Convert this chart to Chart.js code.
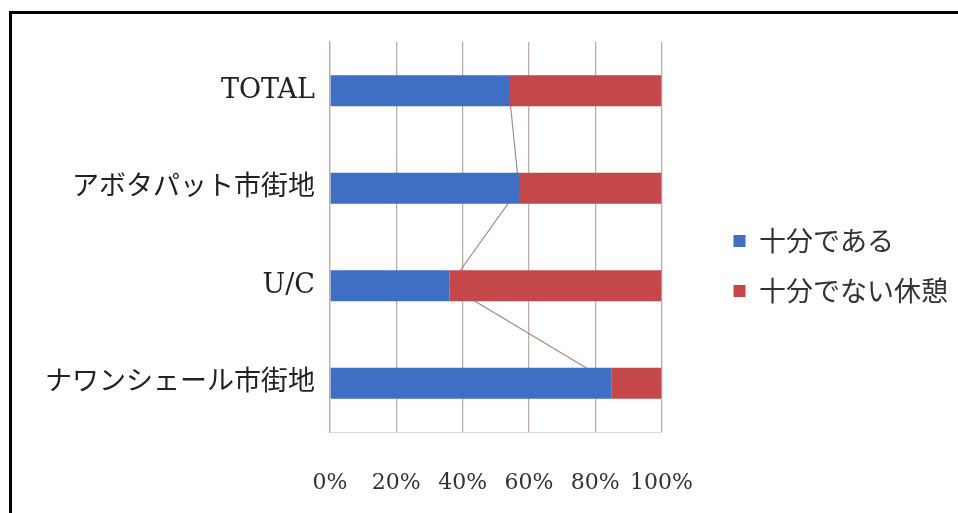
<!DOCTYPE html>
<html>
<head>
<meta charset="utf-8">
<script src="https://cdn.jsdelivr.net/npm/chart.js@4"></script>
<style>
    body { margin: 0; background: #fff; }
    #wrap { position: relative; width: 958px; height: 513px; overflow: hidden; }
    #chart { position: absolute; left: 0; top: 0; }
    #frame {
        position: absolute; left: 9px; top: 11px; width: 960px; height: 520px;
        border-top: 3px solid #000; border-left: 3px solid #000;
    }
</style>
</head>
<body>
<div id="wrap">
    <canvas id="chart" width="958" height="513"></canvas>
    <div id="frame"></div>
</div>
<script>
// categories, top to bottom
const categories = ['TOTAL', 'アボタパット市街地', 'U/C', 'ナワンシェール市街地'];
const seriesNames = ['十分である', '十分でない休憩'];
// percent shares
const enough = [54, 57, 36, 85];
const notEnough = [46, 43, 64, 15];
const tickValues = [0, 20, 40, 60, 80, 100];

const latinFont = '"DejaVu Serif", "Noto Sans CJK JP", serif';

new Chart(document.getElementById('chart'), {
    type: 'bar',
    data: {
        labels: categories,
        datasets: [
            {
                label: seriesNames[0],
                data: enough,
                backgroundColor: '#3e6fc3',
                order: 1
            },
            {
                label: seriesNames[1],
                data: notEnough,
                backgroundColor: '#c4474a',
                order: 2
            },
            {
                // series lines between the blue ends (drawn behind the bars)
                type: 'line',
                indexAxis: 'y',
                label: 'series lines',
                data: enough,
                stack: 'lines',
                borderColor: '#a88a84',
                borderWidth: 1.2,
                pointRadius: 0,
                fill: false,
                order: 3
            }
        ]
    },
    options: {
        indexAxis: 'y',
        responsive: false,
        animation: false,
        layout: {
            padding: { left: 0, top: 42, right: 0, bottom: 23 }
        },
        datasets: {
            bar: {
                barPercentage: 0.32,
                categoryPercentage: 1
            }
        },
        plugins: {
            tooltip: { enabled: false },
            legend: {
                position: 'right',
                maxWidth: 300,
                labels: {
                    boxWidth: 12,
                    boxHeight: 12,
                    padding: 23,
                    color: '#333',
                    font: { family: '"Noto Sans CJK JP", sans-serif', size: 27 },
                    filter: item => item.datasetIndex < 2
                }
            }
        },
        scales: {
            x: {
                stacked: true,
                min: 0,
                max: 100,
                afterBuildTicks: s => { s.ticks = tickValues.map(v => ({ value: v })); },
                grid: { color: '#bcaea8', lineWidth: 1.3, drawTicks: false },
                border: { color: '#e2ddd9' },
                ticks: {
                    padding: 38,
                    color: '#333',
                    autoSkip: false,
                    maxRotation: 0,
                    minRotation: 0,
                    font: { family: latinFont, size: 22 },
                    callback: v => v + '%'
                },
                afterFit: s => { s.height = 58; }
            },
            y: {
                stacked: true,
                grid: { display: false, drawTicks: false },
                border: { color: '#bcaea8', width: 1.3 },
                ticks: {
                    padding: 15,
                    color: '#222',
                    font: { family: latinFont, size: 27 }
                },
                afterFit: s => { s.width = 330; }
            },
            // empty axis to keep the gap between plot and legend
            yGap: {
                type: 'category',
                position: 'right',
                grid: { display: false },
                border: { display: false },
                ticks: { display: false },
                afterFit: s => { s.width = 49; }
            }
        }
    }
});
</script>
</body>
</html>
